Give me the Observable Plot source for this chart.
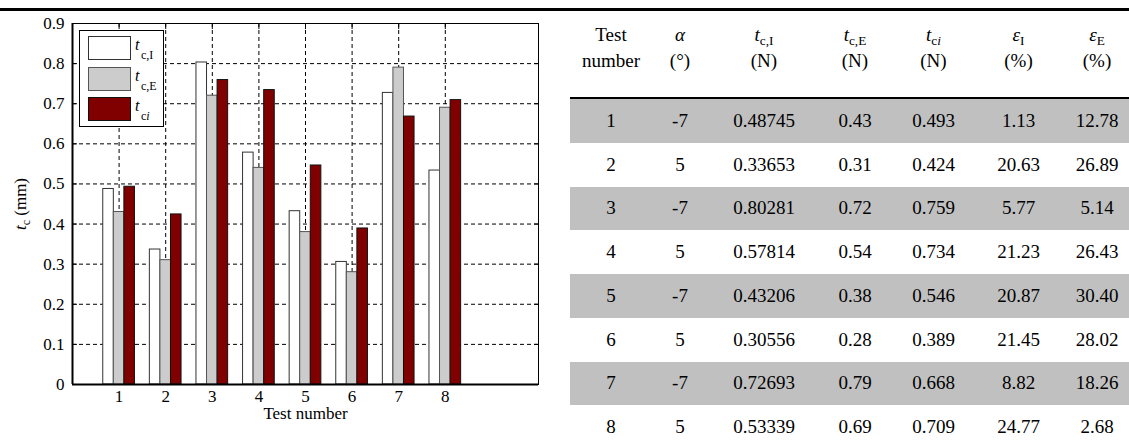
<!DOCTYPE html>
<html><head><meta charset="utf-8">
<script src="https://cdn.jsdelivr.net/npm/d3@7"></script>
<script src="https://cdn.jsdelivr.net/npm/@observablehq/plot@0.6"></script>
<style>
html,body{margin:0;padding:0;background:#fff;}
#root{position:relative;width:1129px;height:444px;overflow:hidden;font-family:"Liberation Serif","Times New Roman",serif;color:#000;}
#rule{position:absolute;left:0;top:8px;width:1129px;height:3px;background:#000;}
#chart{position:absolute;left:0;top:0;}
#legend{position:absolute;left:79px;top:30px;width:85px;height:97px;border:1.5px solid #000;background:#fff;box-sizing:border-box;}
.sw{position:absolute;left:8px;width:43px;height:24px;box-sizing:border-box;}
.lt{position:absolute;left:55px;font-size:16px;font-style:italic;line-height:16px;}
.ls{position:absolute;left:61px;font-size:12px;line-height:12px;}
#ylab{position:absolute;left:21px;top:204px;transform:translate(-50%,-50%) rotate(-90deg);font-size:17px;white-space:nowrap;}
#tbl{position:absolute;left:570px;top:11px;border-collapse:collapse;table-layout:fixed;width:564px;font-size:19px;}
#tbl thead tr{height:87px;}
#tbl th{font-weight:normal;border-bottom:2px solid #000;line-height:26px;padding:11px 0 0 0;vertical-align:top;text-align:center;}
#tbl td{height:43.75px;padding:0;text-align:center;vertical-align:middle;line-height:20px;}
#tbl tr.g td{background:#c0c0c0;}
sub{font-size:70%;line-height:0;vertical-align:-0.3em;}
</style></head>
<body><div id="root"><div id="rule"></div><div id="chart"></div>
<div id="ylab"><i>t</i><sub style="font-size:12px">c</sub> (mm)</div>
<div id="legend"></div>
<table id="tbl"></table>
</div>
<script>
const tests = [1, 2, 3, 4, 5, 6, 7, 8];
const alpha = [-7, 5, -7, 5, -7, 5, -7, 5];
const tcI = [0.48745, 0.33653, 0.80281, 0.57814, 0.43206, 0.30556, 0.72693, 0.53339];
const tcE = [0.43, 0.31, 0.72, 0.54, 0.38, 0.28, 0.79, 0.69];
const tci = [0.493, 0.424, 0.759, 0.734, 0.546, 0.389, 0.668, 0.709];
const epsI = ["1.13", "20.63", "5.77", "21.23", "20.87", "21.45", "8.82", "24.77"];
const epsE = ["12.78", "26.89", "5.14", "26.43", "30.40", "28.02", "18.26", "2.68"];
const yTicks = [0, 0.1, 0.2, 0.3, 0.4, 0.5, 0.6, 0.7, 0.8, 0.9];
const xTicks = [1, 2, 3, 4, 5, 6, 7, 8];
const seriesValues = [tcI, tcE, tci];
const seriesFill = ["#ffffff", "#cccccc", "#800000"];
const seriesStroke = ["#333333", "#555555", "#111111"];
const legendLabels = [["c,I"], ["c,E"], ["c", "i"]];
const colWidths = [82, 56, 112, 70, 87, 83, 74];

const groupWidth = 0.68, barW = groupWidth / 3;
const dash = "4,3";

const chart = Plot.plot({
  width: 560, height: 444,
  marginLeft: 72, marginRight: 22, marginTop: 23, marginBottom: 60,
  style: {fontFamily: "'Liberation Serif', 'Times New Roman', serif", fontSize: "17px", background: "transparent", color: "#000"},
  x: {domain: [0, 10]},
  y: {domain: [0, 0.9]},
  marks: [
    Plot.gridY({ticks: yTicks, stroke: "#000", strokeOpacity: 1, strokeDasharray: dash}),
    Plot.gridX({ticks: xTicks, stroke: "#000", strokeOpacity: 1, strokeDasharray: dash}),
    ...seriesValues.map((vals, k) => Plot.rectY(tests, {
      x1: t => t - groupWidth / 2 + k * barW,
      x2: t => t - groupWidth / 2 + (k + 1) * barW,
      y1: 0, y2: (t, i) => vals[i],
      fill: seriesFill[k], stroke: seriesStroke[k], strokeWidth: 1, inset: 0
    })),
    Plot.frame({stroke: "#000", strokeWidth: 1}),
    Plot.ruleX([0], {stroke: "#000", strokeWidth: 2}),
    Plot.ruleY([0], {stroke: "#000", strokeWidth: 2}),
    Plot.axisY({ticks: yTicks, tickSize: 0, tickPadding: 8, tickFormat: d => d === 0 ? "0" : d.toFixed(1), label: null}),
    Plot.axisY({anchor: "left", ticks: yTicks, tickSize: -5, tickFormat: () => "", label: null}),
    Plot.axisY({anchor: "right", ticks: yTicks, tickSize: -5, tickFormat: () => "", label: null}),
    Plot.axisX({ticks: xTicks, tickSize: 0, tickPadding: 5, tickFormat: d => String(d), label: null}),
    Plot.axisX({anchor: "top", ticks: xTicks, tickSize: -5, tickFormat: () => "", label: null}),
    Plot.text(["Test number"], {frameAnchor: "bottom", dy: 34, fontSize: 17})
  ]
});
document.getElementById("chart").appendChild(chart);

// legend
const lg = document.getElementById("legend");
const swTops = [5, 36, 66];
seriesFill.forEach((f, k) => {
  const s = document.createElement("div");
  s.className = "sw";
  s.style.top = swTops[k] + "px";
  s.style.background = f;
  s.style.border = "1px solid " + seriesStroke[k];
  lg.appendChild(s);
  const t = document.createElement("div");
  t.className = "lt"; t.style.top = (swTops[k] + 1) + "px"; t.textContent = "t";
  lg.appendChild(t);
  const sb = document.createElement("div");
  sb.className = "ls"; sb.style.top = (swTops[k] + 13) + "px";
  sb.innerHTML = legendLabels[k][0] + (legendLabels[k][1] ? "<i>" + legendLabels[k][1] + "</i>" : "");
  lg.appendChild(sb);
});

// table
const tbl = document.getElementById("tbl");
const cg = document.createElement("colgroup");
colWidths.forEach(w => { const c = document.createElement("col"); c.style.width = w + "px"; cg.appendChild(c); });
tbl.appendChild(cg);
const headers = [
  "Test<br>number",
  "<i>α</i><br>(°)",
  "<i>t</i><sub>c,I</sub><br>(N)",
  "<i>t</i><sub>c,E</sub><br>(N)",
  "<i>t</i><sub>c<i>i</i></sub><br>(N)",
  "<i>ε</i><sub>I</sub><br>(%)",
  "<i>ε</i><sub>E</sub><br>(%)"
];
const thead = document.createElement("thead");
const hr = document.createElement("tr");
headers.forEach(h => { const th = document.createElement("th"); th.innerHTML = h; hr.appendChild(th); });
thead.appendChild(hr); tbl.appendChild(thead);
const tbody = document.createElement("tbody");
tests.forEach((t, i) => {
  const tr = document.createElement("tr");
  if (i % 2 === 0) tr.className = "g";
  [String(t), String(alpha[i]), tcI[i].toFixed(5), tcE[i].toFixed(2), tci[i].toFixed(3), epsI[i], epsE[i]].forEach(v => {
    const td = document.createElement("td"); td.textContent = v; tr.appendChild(td);
  });
  tbody.appendChild(tr);
});
tbl.appendChild(tbody);
</script>
</body></html>
